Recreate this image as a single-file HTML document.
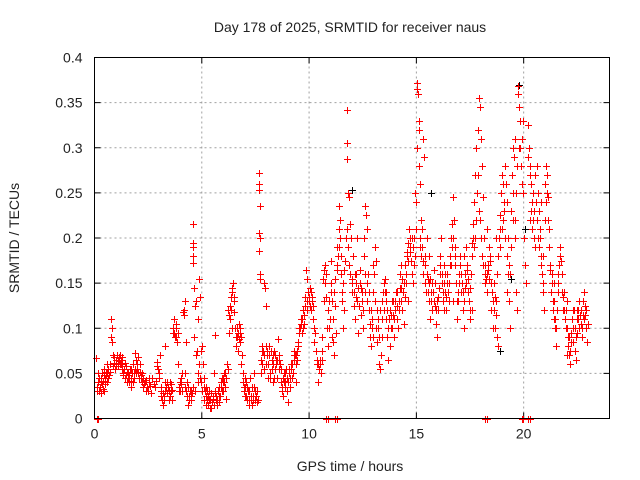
<!DOCTYPE html>
<html><head><meta charset="utf-8">
<style>
html,body{margin:0;padding:0;background:#fff;}
svg{display:block;font-family:"Liberation Sans",sans-serif;}
</style></head>
<body>
<svg id="chart" width="640" height="480" viewBox="0 0 640 480">
<text x="350" y="32" text-anchor="middle" font-size="14" fill="#222">Day 178 of 2025, SRMTID for receiver naus</text>
<text x="350" y="471" text-anchor="middle" font-size="14" fill="#222">GPS time / hours</text>
<text transform="translate(19,238) rotate(-90)" text-anchor="middle" font-size="14" fill="#222">SRMTID / TECUs</text>
<g id="grid"></g>
<g id="ticks"></g>
<g id="marks"></g>
<rect x="94.5" y="57.5" width="515" height="361" fill="none" stroke="#000" stroke-width="1"/>
</svg>
<script>
const xTicks = [0, 5, 10, 15, 20];
const yTicks = [0, 0.05, 0.1, 0.15, 0.2, 0.25, 0.3, 0.35, 0.4];
const yTickLabels = ["0", "0.05", "0.1", "0.15", "0.2", "0.25", "0.3", "0.35", "0.4"];
const redPoints = [
[0.05,0.067],[0.1,0.03],[0.15,0.04],[0.2,0.045],[0.25,0.035],[0.3,0.028],[0.35,0.05],[0.4,0.042],[0.45,0.055],[0.5,0.038],[0.55,0.048],[0.6,0.06],[0.65,0.045],[0.7,0.052],[0.75,0.09],[0.78,0.11],[0.8,0.1],[0.82,0.085],[0.85,0.07],[0.9,0.062],[0.95,0.055],[1.0,0.065],[1.05,0.07],[1.1,0.058],[1.15,0.064],[1.2,0.07],[1.25,0.06],[1.3,0.055],[1.35,0.05],[1.4,0.062],[1.45,0.048],[1.5,0.052],[1.55,0.045],[1.6,0.04],[1.65,0.055],[1.7,0.035],[1.75,0.05],[1.8,0.06],[1.85,0.045],[1.9,0.073],[1.95,0.065],[2.0,0.055],[2.05,0.05],[2.1,0.06],[2.15,0.045],[2.2,0.04],[2.3,0.038],[2.4,0.043],[2.5,0.03],[2.55,0.04],[2.6,0.036],[2.7,0.045],[2.8,0.035],[2.9,0.063],[2.95,0.055],[3.0,0.05],[3.05,0.07],[3.1,0.03],[3.15,0.02],[3.2,0.015],[3.25,0.025],[3.3,0.08],[3.35,0.035],[3.4,0.028],[3.45,0.02],[3.5,0.04],[3.55,0.03],[3.6,0.032],[3.65,0.1],[3.7,0.11],[3.72,0.095],[3.75,0.09],[3.8,0.105],[3.85,0.085],[3.9,0.06],[3.95,0.035],[4.0,0.03],[4.05,0.045],[4.1,0.05],[4.15,0.12],[4.2,0.13],[4.25,0.085],[4.3,0.04],[4.35,0.015],[4.4,0.025],[4.45,0.03],[4.5,0.02],[4.55,0.028],[4.6,0.215],[4.6,0.195],[4.6,0.19],[4.6,0.18],[4.6,0.172],[4.62,0.145],[4.65,0.09],[4.7,0.125],[4.75,0.13],[4.8,0.11],[4.85,0.155],[4.9,0.135],[4.95,0.075],[5.0,0.08],[5.05,0.06],[5.1,0.045],[5.15,0.03],[5.2,0.025],[5.25,0.02],[5.3,0.015],[5.35,0.03],[5.4,0.02],[5.45,0.012],[5.5,0.025],[5.55,0.05],[5.6,0.093],[5.65,0.02],[5.7,0.015],[5.75,0.03],[5.8,0.018],[5.85,0.025],[5.9,0.035],[5.95,0.03],[6.0,0.045],[6.05,0.04],[6.1,0.05],[6.15,0.022],[6.2,0.055],[6.25,0.095],[6.3,0.125],[6.35,0.12],[6.4,0.14],[6.45,0.15],[6.5,0.135],[6.55,0.1],[6.6,0.08],[6.65,0.09],[6.7,0.075],[6.75,0.105],[6.8,0.085],[6.85,0.06],[6.9,0.05],[6.95,0.035],[7.0,0.025],[7.05,0.04],[7.1,0.02],[7.15,0.03],[7.2,0.015],[7.25,0.045],[7.3,0.02],[7.35,0.035],[7.4,0.025],[7.45,0.05],[7.5,0.03],[7.55,0.018],[7.6,0.02],[7.65,0.272],[7.68,0.26],[7.65,0.253],[7.7,0.235],[7.68,0.205],[7.7,0.2],[7.65,0.186],[7.7,0.16],[7.72,0.155],[7.75,0.05],[7.8,0.08],[7.85,0.075],[7.9,0.15],[7.95,0.145],[8.0,0.125],[8.0,0.06],[8.05,0.07],[8.1,0.045],[8.15,0.08],[8.2,0.05],[8.25,0.065],[8.3,0.04],[8.35,0.075],[8.4,0.055],[8.45,0.065],[8.5,0.045],[8.55,0.088],[8.6,0.07],[8.65,0.06],[8.7,0.04],[8.75,0.035],[8.8,0.025],[8.85,0.05],[8.9,0.042],[8.95,0.03],[9.0,0.018],[9.05,0.055],[9.1,0.035],[9.15,0.06],[9.2,0.045],[9.25,0.05],[9.3,0.065],[9.35,0.07],[9.4,0.06],[9.45,0.075],[9.5,0.08],[9.55,0.1],[9.6,0.11],[9.65,0.095],[9.7,0.12],[9.75,0.105],[9.8,0.135],[9.85,0.165],[9.9,0.155],[9.95,0.14],[10.0,0.13],[10.05,0.145],[10.1,0.12],[10.15,0.135],[10.2,0.11],[10.25,0.085],[10.3,0.075],[10.35,0.06],[10.4,0.04],[10.45,0.055],[10.5,0.065],[10.55,0.05],[10.6,0.065],[10.65,0.155],[10.7,0.165],[10.75,0.17],[10.8,0.135],[10.85,0.1],[10.9,0.08],[10.95,0.13],[11.0,0.14],[11.05,0.09],[11.1,0.11],[11.15,0.07],[11.2,0.125],[11.25,0.095],[11.3,0.17],[11.35,0.18],[11.4,0.235],[11.45,0.2],[11.5,0.16],[11.55,0.14],[11.6,0.1],[11.65,0.12],[11.7,0.2],[11.75,0.342],[11.75,0.305],[11.75,0.287],[11.8,0.25],[11.85,0.245],[11.9,0.215],[11.95,0.2],[12.0,0.15],[12.05,0.18],[12.1,0.125],[12.15,0.11],[12.2,0.135],[12.25,0.2],[12.3,0.095],[12.35,0.165],[12.4,0.145],[12.45,0.13],[12.5,0.1],[12.55,0.18],[12.6,0.235],[12.65,0.225],[12.7,0.21],[12.75,0.16],[12.8,0.12],[12.85,0.09],[12.9,0.08],[12.95,0.11],[13.0,0.14],[13.05,0.19],[13.1,0.175],[13.15,0.12],[13.2,0.1],[13.25,0.06],[13.3,0.055],[13.35,0.07],[13.4,0.09],[13.45,0.14],[13.5,0.12],[13.55,0.155],[13.6,0.11],[13.65,0.09],[13.7,0.065],[13.75,0.08],[13.8,0.1],[13.85,0.13],[13.9,0.115],[13.95,0.09],[14.0,0.12],[14.05,0.14],[14.1,0.11],[14.15,0.1],[14.2,0.13],[14.25,0.16],[14.3,0.145],[14.35,0.12],[14.4,0.105],[14.45,0.135],[14.5,0.15],[14.55,0.18],[14.6,0.195],[14.65,0.21],[14.7,0.2],[14.75,0.175],[14.8,0.16],[14.85,0.15],[14.9,0.2],[14.95,0.25],[15.0,0.24],[15.02,0.372],[15.05,0.365],[15.08,0.36],[15.1,0.33],[15.12,0.32],[15.05,0.3],[15.1,0.28],[15.15,0.26],[15.2,0.22],[15.25,0.21],[15.3,0.31],[15.35,0.29],[15.4,0.17],[15.45,0.14],[15.5,0.2],[15.55,0.155],[15.6,0.13],[15.65,0.11],[15.7,0.14],[15.75,0.12],[15.8,0.165],[15.85,0.15],[15.9,0.105],[15.95,0.09],[16.0,0.12],[16.05,0.145],[16.1,0.18],[16.15,0.2],[16.2,0.16],[16.25,0.14],[16.3,0.12],[16.35,0.16],[16.4,0.135],[16.45,0.15],[16.5,0.13],[16.55,0.17],[16.6,0.2],[16.65,0.215],[16.7,0.245],[16.75,0.22],[16.8,0.19],[16.85,0.15],[16.9,0.11],[16.95,0.13],[17.0,0.16],[17.05,0.18],[17.1,0.14],[17.15,0.12],[17.2,0.1],[17.25,0.145],[17.3,0.19],[17.35,0.17],[17.4,0.155],[17.45,0.13],[17.5,0.11],[17.55,0.16],[17.6,0.195],[17.65,0.215],[17.7,0.24],[17.75,0.27],[17.8,0.3],[17.85,0.32],[17.9,0.355],[17.95,0.345],[18.0,0.31],[18.05,0.28],[18.1,0.245],[18.15,0.2],[18.2,0.17],[18.25,0.155],[18.3,0.14],[18.35,0.165],[18.4,0.19],[18.45,0.175],[18.5,0.12],[18.55,0.1],[18.6,0.15],[18.65,0.135],[18.7,0.115],[18.75,0.09],[18.8,0.08],[18.85,0.2],[18.9,0.225],[18.95,0.25],[19.0,0.27],[19.05,0.26],[19.1,0.24],[19.15,0.2],[19.2,0.18],[19.25,0.16],[19.3,0.13],[19.35,0.1],[19.4,0.19],[19.45,0.27],[19.5,0.3],[19.55,0.29],[19.6,0.31],[19.65,0.14],[19.7,0.12],[19.72,0.368],[19.75,0.36],[19.8,0.345],[19.82,0.33],[19.85,0.3],[19.9,0.31],[19.95,0.33],[20.0,0.2],[20.05,0.17],[20.1,0.15],[20.2,0.325],[20.25,0.3],[20.3,0.28],[20.35,0.26],[20.4,0.24],[20.45,0.22],[20.5,0.2],[20.55,0.27],[20.6,0.28],[20.65,0.25],[20.7,0.23],[20.75,0.21],[20.8,0.18],[20.85,0.16],[20.9,0.14],[20.95,0.12],[21.0,0.26],[21.05,0.28],[21.1,0.27],[21.15,0.245],[21.2,0.19],[21.25,0.165],[21.3,0.15],[21.35,0.13],[21.4,0.11],[21.45,0.1],[21.5,0.08],[21.55,0.12],[21.6,0.14],[21.65,0.17],[21.7,0.19],[21.75,0.175],[21.8,0.16],[21.85,0.135],[21.9,0.12],[21.95,0.1],[22.0,0.13],[22.05,0.09],[22.1,0.07],[22.15,0.06],[22.2,0.085],[22.25,0.11],[22.3,0.1],[22.35,0.12],[22.4,0.075],[22.45,0.065],[22.5,0.095],[22.55,0.11],[22.6,0.13],[22.65,0.105],[22.7,0.09],[22.75,0.115],[22.8,0.14],[22.85,0.125],[22.9,0.1],[22.95,0.085],
[0.3,0.04],[0.45,0.03],[0.6,0.05],[1.1,0.065],[1.3,0.06],[1.7,0.045],[2.2,0.05],[2.4,0.03],[3.3,0.04],[3.6,0.02],[4.2,0.035],[4.8,0.04],[5.2,0.035],[5.6,0.03],[6.0,0.03],[6.4,0.1],[6.8,0.095],[7.0,0.045],[7.8,0.06],[8.3,0.06],[8.9,0.05],[9.4,0.04],[10.6,0.075],[11.0,0.175],[11.4,0.21],[12.2,0.16],[12.6,0.14],[13.0,0.17],[13.6,0.14],[14.3,0.17],[14.6,0.13],[15.3,0.175],[15.6,0.18],[16.3,0.17],[16.7,0.13],[17.2,0.18],[17.6,0.12],[18.3,0.21],[18.7,0.2],[19.2,0.14],[19.6,0.22],[20.3,0.22],[20.8,0.24],[21.4,0.15],[22.0,0.07],[22.5,0.12]
];
const redDense = [
[0.12,0.035],[0.18,0.05],[0.22,0.03],[0.28,0.045],[0.33,0.038],[0.38,0.033],[0.42,0.048],[0.48,0.045],[0.52,0.052],[0.58,0.04],[0.62,0.055],[0.68,0.048],[0.72,0.06],[0.88,0.058],[0.92,0.068],[0.98,0.06],[1.02,0.058],[1.08,0.062],[1.12,0.068],[1.18,0.06],[1.22,0.065],[1.28,0.068],[1.32,0.048],[1.38,0.055],[1.42,0.045],[1.48,0.058],[1.52,0.04],[1.58,0.05],[1.62,0.048],[1.68,0.042],[1.72,0.055],[1.78,0.04],[1.82,0.05],[1.88,0.055],[1.92,0.05],[1.98,0.06],[2.02,0.068],[2.08,0.045],[2.12,0.052],[2.18,0.048],[2.25,0.035],[2.28,0.045],[2.35,0.04],[2.45,0.035],[2.52,0.045],[2.65,0.028],[2.75,0.038],[2.85,0.042],[2.92,0.058],[3.02,0.045],[3.08,0.025],[3.12,0.035],[3.18,0.028],[3.22,0.02],[3.28,0.03],[3.38,0.04],[3.42,0.035],[3.48,0.03],[3.52,0.025],[3.58,0.038],[3.68,0.095],[3.78,0.1],[3.82,0.09],[3.88,0.095],[3.92,0.03],[3.98,0.04],[4.02,0.038],[4.08,0.03],[4.12,0.118],[4.18,0.115],[4.22,0.05],[4.28,0.03],[4.32,0.025],[4.38,0.035],[4.42,0.02],[4.48,0.03],[4.52,0.025],[4.58,0.035],[4.68,0.03],[4.72,0.07],[4.78,0.075],[4.82,0.05],[4.88,0.06],[4.92,0.045],[4.98,0.04],[5.02,0.03],[5.08,0.035],[5.12,0.02],[5.18,0.015],[5.22,0.03],[5.28,0.025],[5.32,0.02],[5.38,0.012],[5.42,0.028],[5.48,0.018],[5.52,0.022],[5.58,0.015],[5.62,0.028],[5.68,0.025],[5.72,0.02],[5.78,0.025],[5.82,0.035],[5.88,0.04],[5.92,0.045],[5.98,0.04],[6.02,0.05],[6.08,0.035],[6.12,0.045],[6.18,0.06],[6.22,0.12],[6.28,0.115],[6.32,0.11],[6.38,0.135],[6.42,0.145],[6.48,0.13],[6.52,0.118],[6.58,0.09],[6.62,0.1],[6.68,0.095],[6.72,0.088],[6.78,0.1],[6.82,0.09],[6.88,0.07],[6.92,0.04],[6.98,0.03],[7.02,0.035],[7.08,0.025],[7.12,0.035],[7.18,0.02],[7.22,0.03],[7.28,0.025],[7.32,0.015],[7.38,0.02],[7.42,0.035],[7.48,0.02],[7.52,0.025],[7.58,0.03],[7.78,0.065],[7.82,0.075],[7.88,0.07],[7.92,0.055],[7.98,0.08],[8.02,0.075],[8.08,0.06],[8.12,0.07],[8.18,0.045],[8.22,0.075],[8.28,0.055],[8.32,0.07],[8.38,0.045],[8.42,0.07],[8.48,0.06],[8.52,0.065],[8.58,0.055],[8.62,0.065],[8.68,0.055],[8.72,0.03],[8.78,0.045],[8.82,0.04],[8.88,0.035],[8.92,0.055],[8.98,0.045],[9.02,0.04],[9.08,0.05],[9.12,0.045],[9.18,0.055],[9.22,0.06],[9.28,0.07],[9.32,0.075],[9.38,0.07],[9.42,0.065],[9.48,0.085],[9.52,0.095],[9.58,0.1],[9.62,0.105],[9.68,0.11],[9.72,0.1],[9.78,0.115],[9.82,0.125],[9.88,0.13],[9.92,0.12],[9.98,0.135],[10.02,0.125],[10.08,0.14],[10.12,0.13],[10.18,0.125],[10.22,0.1],[10.28,0.095],[10.38,0.065],[10.42,0.06],[10.48,0.055],[10.52,0.06],[10.62,0.09],[10.68,0.13],[10.72,0.15],[10.78,0.16],[10.88,0.12],[10.92,0.1],[10.98,0.11],[11.02,0.15],[11.08,0.13],[11.12,0.085],[11.18,0.14],[11.22,0.155],[11.28,0.165],[11.32,0.19],[11.38,0.19],[11.42,0.22],[11.48,0.18],[11.52,0.13],[11.58,0.15],[11.62,0.165],[11.68,0.175],[11.78,0.21],[11.82,0.19],[11.88,0.17],[11.92,0.16],[11.98,0.14],[12.02,0.155],[12.08,0.14],[12.12,0.16],[12.18,0.15],[12.22,0.13],[12.28,0.145],[12.32,0.125],[12.38,0.15],[12.42,0.115],[12.48,0.14],[12.52,0.12],[12.58,0.2],[12.62,0.16],[12.68,0.15],[12.72,0.13],[12.78,0.14],[12.82,0.105],[12.88,0.12],[12.92,0.1],[12.98,0.09],[13.02,0.16],[13.08,0.13],[13.12,0.1],[13.18,0.085],[13.22,0.11],[13.28,0.09],[13.32,0.12],[13.38,0.11],[13.42,0.13],[13.48,0.15],[13.52,0.14],[13.58,0.13],[13.62,0.12],[13.68,0.1],[13.72,0.11],[13.78,0.12],[13.82,0.115],[13.88,0.1],[13.92,0.13],[13.98,0.11],[14.02,0.13],[14.08,0.125],[14.12,0.14],[14.18,0.12],[14.22,0.145],[14.28,0.13],[14.32,0.155],[14.38,0.14],[14.42,0.15],[14.48,0.17],[14.52,0.16],[14.58,0.185],[14.62,0.175],[14.68,0.19],[14.72,0.185],[14.78,0.2],[14.82,0.19],[14.88,0.17],[14.92,0.18],[14.98,0.21],[15.15,0.2],[15.18,0.19],[15.22,0.18],[15.28,0.19],[15.32,0.16],[15.38,0.15],[15.42,0.18],[15.48,0.16],[15.52,0.14],[15.58,0.15],[15.62,0.155],[15.68,0.13],[15.72,0.15],[15.78,0.14],[15.82,0.13],[15.88,0.125],[15.92,0.12],[15.98,0.13],[16.02,0.135],[16.08,0.16],[16.12,0.17],[16.18,0.15],[16.22,0.13],[16.28,0.15],[16.32,0.14],[16.38,0.12],[16.42,0.16],[16.48,0.14],[16.52,0.15],[16.58,0.18],[16.62,0.17],[16.68,0.19],[16.72,0.2],[16.78,0.18],[16.82,0.17],[16.88,0.13],[16.92,0.14],[16.98,0.15],[17.02,0.17],[17.08,0.16],[17.12,0.15],[17.18,0.14],[17.22,0.13],[17.28,0.16],[17.32,0.15],[17.38,0.165],[17.42,0.14],[17.48,0.12],[17.52,0.145],[17.58,0.18],[17.62,0.2],[17.68,0.19],[17.72,0.2],[17.78,0.22],[17.82,0.25],[17.88,0.27],[17.92,0.23],[17.98,0.22],[18.02,0.2],[18.08,0.18],[18.12,0.17],[18.18,0.16],[18.22,0.15],[18.28,0.16],[18.32,0.17],[18.38,0.155],[18.42,0.18],[18.48,0.15],[18.52,0.14],[18.58,0.13],[18.62,0.12],[18.68,0.1],[18.72,0.13],[18.78,0.16],[18.82,0.18],[18.88,0.21],[18.92,0.19],[18.98,0.21],[19.02,0.22],[19.08,0.23],[19.12,0.28],[19.18,0.26],[19.22,0.24],[19.28,0.2],[19.32,0.17],[19.38,0.16],[19.42,0.23],[19.48,0.25],[19.52,0.22],[19.58,0.2],[19.62,0.25],[19.68,0.28],[19.78,0.3],[19.88,0.28],[19.92,0.26],[19.98,0.25],[20.22,0.29],[20.28,0.27],[20.32,0.23],[20.38,0.21],[20.42,0.25],[20.48,0.23],[20.52,0.19],[20.58,0.24],[20.62,0.22],[20.68,0.2],[20.72,0.19],[20.78,0.2],[20.82,0.17],[20.88,0.15],[20.92,0.18],[20.98,0.22],[21.02,0.24],[21.08,0.25],[21.12,0.22],[21.18,0.21],[21.22,0.17],[21.28,0.14],[21.32,0.16],[21.38,0.12],[21.42,0.13],[21.48,0.11],[21.52,0.1],[21.58,0.15],[21.62,0.16],[21.68,0.18],[21.72,0.175],[21.78,0.14],[21.82,0.12],[21.88,0.14],[21.92,0.11],[21.98,0.12],[22.02,0.1],[22.08,0.08],[22.12,0.09],[22.18,0.075],[22.22,0.095],[22.28,0.12],[22.32,0.085],[22.38,0.1],[22.42,0.09],[22.48,0.11],[22.52,0.12],[22.58,0.1],[22.62,0.115],[22.68,0.12],[22.72,0.1],[22.78,0.13],[22.82,0.11],[22.88,0.115],[22.92,0.12],[22.98,0.105]
];
const redZeros = [0.1, 11.2, 18.2, 20.2, 10.8, 19.9];
const blackPoints = [
[15.05,0.372],[12.0,0.253],[19.8,0.37],[18.9,0.075],[4.85,0.155],[20.05,0.21],[15.7,0.25],[19.4,0.155]
];
const X0=94.5, X1=609.5, Y0=418.5, Y1=57.5, XMAX=24, YMAX=0.4;
function xs(t){return X0+(X1-X0)*t/XMAX;}
function ys(v){return Y0-(Y0-Y1)*v/YMAX;}
const NS='http://www.w3.org/2000/svg';
const grid=document.getElementById('grid'), ticks=document.getElementById('ticks'), marks=document.getElementById('marks');
function mk(tag,attrs,parent){const e=document.createElementNS(NS,tag);for(const k in attrs)e.setAttribute(k,attrs[k]);parent.appendChild(e);return e;}
xTicks.forEach(t=>{
  const x=xs(t);
  if(t>0){const g=mk('line',{x1:x,x2:x,y1:Y0,y2:Y1,stroke:'#a0a0a0','stroke-dasharray':'2,3'},grid);
  
  }
  mk('line',{x1:x,x2:x,y1:Y0,y2:Y0-6,stroke:'#000'},ticks);
  mk('line',{x1:x,x2:x,y1:Y1,y2:Y1+6,stroke:'#000'},ticks);
  const l=mk('text',{x:x,y:Y0+20,'text-anchor':'middle','font-size':'14',fill:'#222'},ticks);
  l.textContent=String(t);
  
  
});
yTicks.forEach((v,i)=>{
  const y=ys(v);
  if(v>0&&v<YMAX){const g=mk('line',{x1:X0,x2:X1,y1:y,y2:y,stroke:'#a0a0a0','stroke-dasharray':'2,3'},grid);
  
  }
  mk('line',{x1:X0,x2:X0+6,y1:y,y2:y,stroke:'#000'},ticks);
  mk('line',{x1:X1,x2:X1-6,y1:y,y2:y,stroke:'#000'},ticks);
  const l=mk('text',{x:X0-12,y:y+5,'text-anchor':'end','font-size':'14',fill:'#222'},ticks);
  l.textContent=yTickLabels[i];
  
  
});
function plus(t,v,color,name){
  const x=Math.round(xs(t))+0.5, y=Math.round(ys(v))+0.5;
  const p=mk('path',{d:`M${x-3.5},${y}H${x+3.5}M${x},${y-3.5}V${y+3.5}`,stroke:color,'stroke-width':'1',fill:'none'},marks);
  
  
}
blackPoints.forEach(p=>plus(p[0],p[1],'#000','black-point'));
redPoints.forEach(p=>plus(p[0],p[1],'#f00','red-point'));
redDense.forEach(p=>plus(p[0],p[1],'#f00','red-point'));
redZeros.forEach(t=>{
  plus(t,0,'#f00','zero-point');
  plus(t+0.08,0,'#f00','zero-point');
});
</script>
</body></html>
